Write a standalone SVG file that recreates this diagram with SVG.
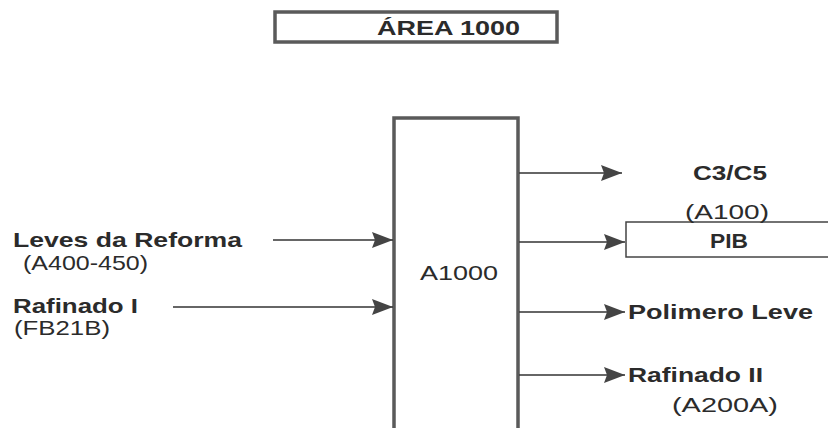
<svg xmlns="http://www.w3.org/2000/svg" width="828" height="428" viewBox="0 0 828 428">
<style>
text { font-family: "Liberation Sans", Arial, sans-serif; font-size: 21px; fill: #2b2b2b; }
.b { font-weight: bold; }
.box { fill: #fff; stroke: #5a5a5a; stroke-width: 3.5; }
.thin { fill: #fff; stroke: #444; stroke-width: 1.5; }
.line { stroke: #333; stroke-width: 1.6; fill: none; marker-end: url(#ah); }
</style>
<defs>
<marker id="ah" markerUnits="userSpaceOnUse" markerWidth="22" markerHeight="18" refX="21" refY="9" orient="auto">
<path d="M0,1 L21,9 L0,17 L3,9 Z" fill="#444"/>
</marker>
</defs>
<rect width="828" height="428" fill="#fff"/>
<g id="area">
<rect class="box" x="275" y="12" width="282" height="30" stroke-width="3"/>
<text class="b" x="377" y="35" textLength="143" lengthAdjust="spacingAndGlyphs">ÁREA 1000</text>
</g>
<g id="a1000">
<rect class="box" x="394" y="118" width="124" height="320"/>
<text x="420" y="280" textLength="78" lengthAdjust="spacingAndGlyphs">A1000</text>
</g>
<g id="pib">
<rect class="thin" x="626" y="222" width="210" height="35"/>
<text class="b" x="710" y="248" textLength="38" lengthAdjust="spacingAndGlyphs">PIB</text>
</g>
<g id="connectors">
<line class="line" x1="273" y1="240" x2="393" y2="240"/>
<line class="line" x1="173" y1="307" x2="393" y2="307"/>
<line class="line" x1="519" y1="173" x2="622" y2="173"/>
<line class="line" x1="519" y1="242" x2="625" y2="242"/>
<line class="line" x1="519" y1="312" x2="625" y2="312"/>
<line class="line" x1="519" y1="375" x2="625" y2="375"/>
</g>
<g id="leves">
<text class="b" x="13" y="247" textLength="229" lengthAdjust="spacingAndGlyphs">Leves da Reforma</text>
<text x="23" y="270" textLength="125" lengthAdjust="spacingAndGlyphs">(A400-450)</text>
</g>
<g id="rafinado1">
<text class="b" x="13" y="313" textLength="125" lengthAdjust="spacingAndGlyphs">Rafinado I</text>
<text x="14" y="335" textLength="96" lengthAdjust="spacingAndGlyphs">(FB21B)</text>
</g>
<g id="c3c5">
<text class="b" x="693" y="180" textLength="74" lengthAdjust="spacingAndGlyphs">C3/C5</text>
<text x="685" y="219" textLength="84" lengthAdjust="spacingAndGlyphs">(A100)</text>
</g>
<g id="polimero">
<text class="b" x="628" y="319" textLength="185" lengthAdjust="spacingAndGlyphs">Polimero Leve</text>
</g>
<g id="rafinado2">
<text class="b" x="628" y="382" textLength="135" lengthAdjust="spacingAndGlyphs">Rafinado II</text>
<text x="672" y="412" textLength="106" lengthAdjust="spacingAndGlyphs">(A200A)</text>
</g>
</svg>
